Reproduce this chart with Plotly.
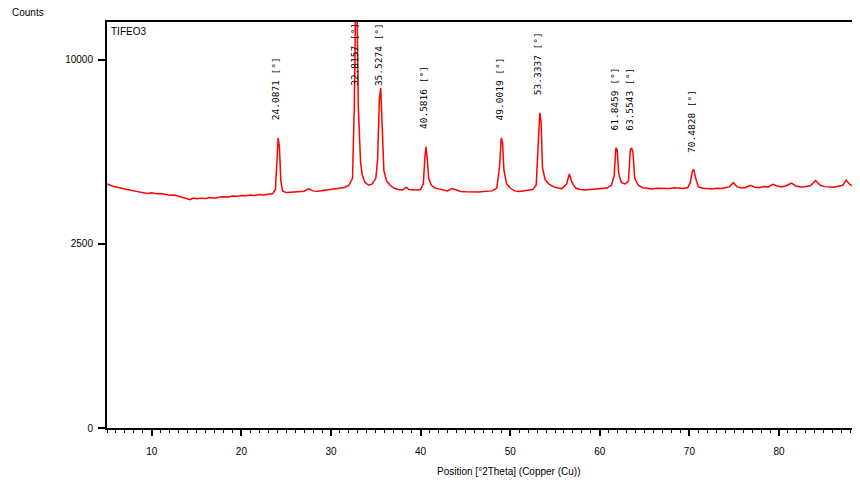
import numpy as np
import plotly.graph_objects as go

two_theta = [5.0, 5.5, 6.0, 6.5, 7.0, 7.5, 8.0, 8.5, 9.0, 9.5, 10.0, 10.5, 11.0, 11.5, 12.0, 12.5,
             13.0, 13.5, 14.0, 14.3, 14.6, 15.0, 15.5, 16.0, 16.5, 17.0, 17.5, 18.0, 18.5, 19.0,
             19.5, 20.0, 20.5, 21.0, 21.5, 22.0, 22.5, 23.0, 23.5, 23.8, 24.0, 24.1, 24.25, 24.4,
             24.6, 25.0, 25.5, 26.0, 26.5, 27.0, 27.5, 28.0, 28.5, 29.0, 29.5, 30.0, 30.5, 31.0,
             31.5, 32.0, 32.4, 32.6, 32.75, 32.9, 33.05, 33.3, 33.5, 33.8, 34.2, 34.6, 35.0, 35.2,
             35.4, 35.55, 35.7, 35.9, 36.2, 36.6, 37.0, 37.5, 38.0, 38.4, 38.7, 39.0, 39.5, 40.0,
             40.3, 40.5, 40.6, 40.75, 40.9, 41.2, 41.6, 42.0, 42.5, 43.0, 43.5, 44.0, 44.5, 45.0,
             45.5, 46.0, 46.5, 47.0, 47.5, 48.0, 48.5, 48.8, 49.0, 49.15, 49.3, 49.6, 50.0, 50.5,
             51.0, 51.5, 52.0, 52.5, 52.9, 53.1, 53.3, 53.45, 53.6, 53.9, 54.3, 54.8, 55.3, 55.8,
             56.3, 56.6, 56.9, 57.3, 57.8, 58.3, 58.8, 59.3, 59.8, 60.3, 60.8, 61.3, 61.6, 61.8,
             61.95, 62.1, 62.4, 62.8, 63.2, 63.4, 63.55, 63.7, 63.9, 64.3, 64.8, 65.3, 65.8, 66.3,
             66.8, 67.3, 67.8, 68.3, 68.8, 69.3, 69.8, 70.1, 70.35, 70.5, 70.7, 71.0, 71.5, 72.0,
             72.5, 73.0, 73.5, 74.0, 74.5, 74.9, 75.3, 75.8, 76.3, 76.8, 77.3, 77.8, 78.3, 78.8,
             79.3, 79.8, 80.3, 80.8, 81.4, 81.9, 82.4, 82.9, 83.5, 84.1, 84.6, 85.1, 85.6, 86.1,
             86.6, 87.1, 87.5, 87.9, 88.4, 89.0, 89.5]
counts = [4400, 4330, 4290, 4250, 4200, 4180, 4150, 4120, 4080, 4060, 4080, 4050, 4060, 4020, 4000, 4010,
          3960, 3920, 3880, 3850, 3900, 3880, 3900, 3890, 3920, 3900, 3930, 3950, 3940, 3970,
          3960, 3990, 3980, 4010, 3990, 4020, 4010, 4030, 4060, 4200, 5900, 6210, 5800, 4500,
          4150, 4090, 4100, 4110, 4120, 4140, 4220, 4150, 4140, 4160, 4190, 4200, 4210, 4240,
          4270, 4350, 4600, 7600, 13500, 13500, 7600, 5200, 4700, 4450, 4350, 4400, 4600, 5300,
          8000, 8540, 7000, 4900, 4500, 4350, 4250, 4200, 4180, 4280, 4200, 4190, 4180, 4200,
          4400, 5500, 5830, 5300, 4600, 4350, 4250, 4220, 4180, 4150, 4230, 4170, 4130, 4120,
          4110, 4120, 4110, 4130, 4140, 4150, 4250, 5000, 6210, 6000, 4900, 4400, 4250, 4150,
          4130, 4160, 4180, 4200, 4350, 5800, 7330, 6900, 5000, 4550, 4400, 4300, 4250, 4230,
          4400, 4760, 4450, 4250, 4200, 4180, 4190, 4200, 4220, 4230, 4250, 4350, 4700, 5790,
          5700, 4800, 4450, 4400, 4500, 5700, 5790, 5600, 4600, 4350, 4260, 4240, 4220, 4240,
          4230, 4220, 4230, 4260, 4240, 4230, 4260, 4450, 4900, 4915, 4600, 4300, 4240, 4230,
          4220, 4240, 4230, 4260, 4300, 4440, 4300, 4250, 4270, 4350, 4280, 4260, 4300, 4290,
          4380, 4320, 4290, 4330, 4430, 4320, 4290, 4300, 4330, 4520, 4350, 4300, 4290, 4280,
          4310, 4350, 4530, 4380, 4300, 4290, 4300]

# Labelled peaks
peak_pos = [24.0871, 32.8157, 35.5274, 40.5816, 49.0019, 53.3337, 61.8459, 63.5543, 70.4828]
peak_counts = [6210, 13500, 8540, 5830, 6210, 7330, 5790, 5790, 4915]
peak_labels = ["24.0871 [°]", "32.8157 [°]", "35.5274 [°]", "40.5816 [°]", "49.0019 [°]",
               "53.3337 [°]", "61.8459 [°]", "63.5543 [°]", "70.4828 [°]"]

y_ticks = [0, 2500, 10000]
y_tick_labels = ["0", "2500", "10000"]
x_ticks = [10, 20, 30, 40, 50, 60, 70, 80]

sq = np.sqrt(np.array(counts, dtype=float))

fig = go.Figure()
fig.add_trace(go.Scatter(x=two_theta, y=sq, mode="lines",
                         line=dict(color="#ff0000", width=1.5), hoverinfo="skip"))

for p, c, t in zip(peak_pos, peak_counts, peak_labels):
    yb = min(np.sqrt(c) + 4.2, 92.4)
    fig.add_annotation(x=p - 0.2, y=yb, text=t, textangle=-90, showarrow=False,
                       xanchor="center", yanchor="bottom",
                       font=dict(family="DejaVu Sans Mono", size=9.5, color="black"))

fig.add_annotation(x=0.002, y=0.995, xref="paper", yref="paper", text="TIFEO3", showarrow=False,
                   xanchor="left", yanchor="top",
                   font=dict(family="Liberation Sans", size=10, color="black"))
fig.add_annotation(x=-0.1288, y=1.005, xref="paper", yref="paper", text="Counts",
                   showarrow=False, xanchor="left", yanchor="bottom",
                   font=dict(family="Liberation Sans", size=10, color="black"))
fig.add_annotation(x=(509 - 107) / 753, y=-0.108, xref="paper", yref="paper",
                   text="Position [°2Theta] (Copper (Cu))", showarrow=False,
                   xanchor="center", yanchor="middle",
                   font=dict(family="Liberation Sans", size=10, color="black"))

fig.update_layout(
    width=852, height=469,
    margin=dict(l=99, r=0, t=14, b=49),
    paper_bgcolor="white", plot_bgcolor="white",
    showlegend=False,
    font=dict(family="Liberation Sans", size=10, color="black"),
)

fig.update_xaxes(range=[5, 89.04], tickvals=x_ticks, ticks="outside", ticklen=6, tickwidth=1.5,
                 tickcolor="black", showline=True, linewidth=2, linecolor="black", mirror=True,
                 showgrid=False, zeroline=False, ticklabelstandoff=7,
                 minor=dict(dtick=1, tick0=0, ticks="outside", ticklen=3, tickwidth=1, tickcolor="black",
                            showgrid=False),
                 tickfont=dict(family="Liberation Sans", size=10))
fig.update_yaxes(range=[0, 110.3], tickvals=[np.sqrt(v) for v in y_ticks], ticktext=y_tick_labels,
                 ticks="outside", ticklen=7, tickwidth=1.5, tickcolor="black", ticklabelstandoff=3,
                 showline=True, linewidth=2, linecolor="black", showgrid=False, zeroline=False,
                 tickfont=dict(family="Liberation Sans", size=10))

fig.write_html("out.html")
